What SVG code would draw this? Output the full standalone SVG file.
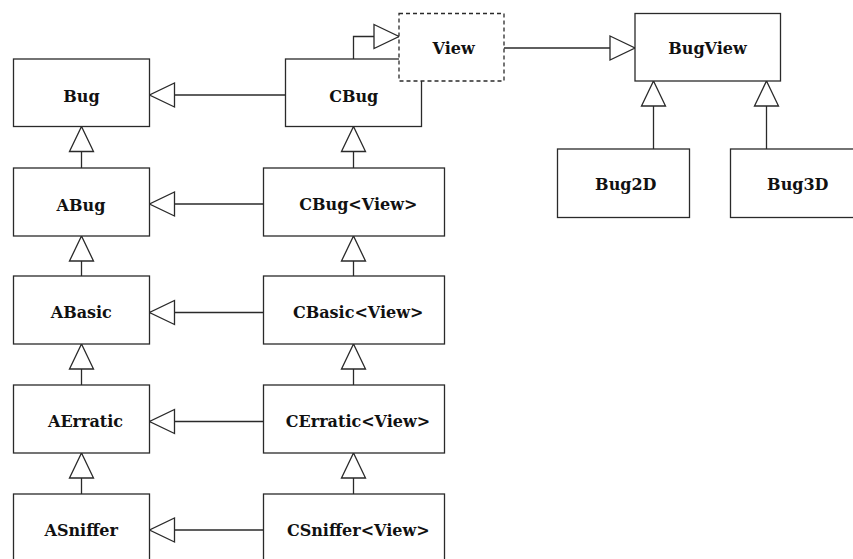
<svg xmlns="http://www.w3.org/2000/svg" width="853" height="559" viewBox="0 0 853 559">
<style>
.box{fill:#fff;stroke:#2a2a2a;stroke-width:1.3}
.dash{fill:#fff;stroke:#2a2a2a;stroke-width:1.3;stroke-dasharray:4 3}
.lbl{font-family:"DejaVu Serif","Liberation Serif",serif;font-weight:bold;font-size:16px;fill:#111;text-anchor:middle}
.edge{fill:none;stroke:#2a2a2a;stroke-width:1.3;marker-end:url(#tri)}
</style>
<defs>
<marker id="tri" markerUnits="userSpaceOnUse" viewBox="-2 -2 29 28" refX="25" refY="12" markerWidth="29" markerHeight="28" orient="auto">
<path d="M0,0 L25,12 L0,24 Z" fill="#fff" stroke="#2a2a2a" stroke-width="1.3"/>
</marker>
</defs>
<rect width="853" height="559" fill="#fff"/>
<g id="connectors">
<path class="edge" d="M285.5,95 L149.5,95"/>
<path class="edge" d="M263.5,204 L149.5,204"/>
<path class="edge" d="M263.5,312.5 L149.5,312.5"/>
<path class="edge" d="M263.5,421.5 L149.5,421.5"/>
<path class="edge" d="M263.5,530 L149.5,530"/>
<path class="edge" d="M81.5,168 L81.5,126.5"/>
<path class="edge" d="M81.5,276 L81.5,236"/>
<path class="edge" d="M81.5,385 L81.5,344"/>
<path class="edge" d="M81.5,494 L81.5,453"/>
<path class="edge" d="M353.5,168 L353.5,126.5"/>
<path class="edge" d="M353.5,276 L353.5,236"/>
<path class="edge" d="M353.5,385 L353.5,344"/>
<path class="edge" d="M353.5,494 L353.5,453"/>
<path class="edge" d="M353.5,59 L353.5,36.5 L399,36.5"/>
<path class="edge" d="M504,48 L635,48"/>
<path class="edge" d="M653.5,149 L653.5,81"/>
<path class="edge" d="M766.5,149 L766.5,81"/>
</g>
<g id="Bug"><rect class="box" x="13.5" y="59" width="136" height="67.5"/><text class="lbl" x="81.5" y="101.5">Bug</text></g>
<g id="ABug"><rect class="box" x="13.5" y="168" width="136" height="68"/><text class="lbl" x="81" y="210.5">ABug</text></g>
<g id="ABasic"><rect class="box" x="13.5" y="276" width="136" height="68"/><text class="lbl" x="81.3" y="318">ABasic</text></g>
<g id="AErratic"><rect class="box" x="13.5" y="385" width="136" height="68"/><text class="lbl" x="85.5" y="427">AErratic</text></g>
<g id="ASniffer"><rect class="box" x="13.5" y="494" width="136" height="68"/><text class="lbl" x="81.2" y="535.5">ASniffer</text></g>
<g id="CBug"><rect class="box" x="285.5" y="59" width="136" height="67.5"/><text class="lbl" x="353.7" y="101.5">CBug</text></g>
<g id="CBugView"><rect class="box" x="263.5" y="168" width="181" height="68"/><text class="lbl" x="358.3" y="210">CBug&lt;View&gt;</text></g>
<g id="CBasicView"><rect class="box" x="263.5" y="276" width="181" height="68"/><text class="lbl" x="358.2" y="318">CBasic&lt;View&gt;</text></g>
<g id="CErraticView"><rect class="box" x="263.5" y="385" width="181" height="68"/><text class="lbl" x="358" y="427">CErratic&lt;View&gt;</text></g>
<g id="CSnifferView"><rect class="box" x="263.5" y="494" width="181" height="68"/><text class="lbl" x="358.3" y="535.5">CSniffer&lt;View&gt;</text></g>
<g id="View"><rect class="dash" x="399" y="13.5" width="105" height="67.5"/><text class="lbl" x="453.6" y="53.5">View</text></g>
<g id="BugView"><rect class="box" x="635" y="13.5" width="145.5" height="67.5"/><text class="lbl" x="707.5" y="54">BugView</text></g>
<g id="Bug2D"><rect class="box" x="557.5" y="149" width="132" height="68.5"/><text class="lbl" x="625.8" y="190">Bug2D</text></g>
<g id="Bug3D"><rect class="box" x="730.5" y="149" width="132" height="68.5"/><text class="lbl" x="797.8" y="190">Bug3D</text></g>
</svg>
